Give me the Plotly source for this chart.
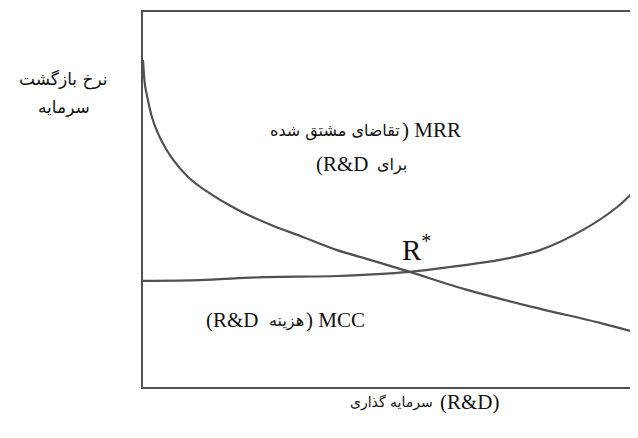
import plotly.graph_objects as go

# MRR curve (derived demand for R&D)
mrr_x = [0, 0.4, 1.0, 1.8, 3.0, 5.7, 9.1, 12.5, 19.2, 25.9, 32.3, 39.2, 45.9, 53.9, 65.5, 78.8, 92.3, 100]
mrr_y = [87.2, 80.5, 76.5, 72.0, 67.7, 61.3, 56.0, 52.5, 47.2, 43.2, 40.0, 36.5, 33.9, 30.7, 25.9, 21.3, 17.1, 14.4]

# MCC curve (cost of R&D)
mcc_x = [0, 11.5, 24.2, 39.2, 53.9, 62.0, 72.1, 80.2, 88.9, 95.8, 100]
mcc_y = [28.3, 28.5, 29.3, 29.6, 30.7, 32.0, 33.9, 36.5, 41.9, 48.0, 53.3]

# Equilibrium point label position
eq_x = [55.3]
eq_y = [37.0]

LINE = "#505050"
SERIF = "Liberation Serif"
ARAB = "DejaVu Sans, sans-serif"
INK = "#111111"

fig = go.Figure()
fig.add_trace(go.Scatter(x=mrr_x, y=mrr_y, mode="lines",
                         line=dict(color=LINE, width=2.2, shape="spline", smoothing=0.8),
                         hoverinfo="skip", showlegend=False))
fig.add_trace(go.Scatter(x=mcc_x, y=mcc_y, mode="lines",
                         line=dict(color=LINE, width=2.2, shape="spline", smoothing=0.8),
                         hoverinfo="skip", showlegend=False))

ann = []


def lat(text, x, y, anchor, size=21, ref="x"):
    ann.append(dict(text=text, x=x, y=y, xref=ref, yref=("y" if ref == "x" else "paper"),
                    xanchor=anchor, yanchor="middle", showarrow=False,
                    font=dict(size=size, color=INK, family=SERIF)))


def per(text, x, y, anchor, size=15, ref="x"):
    ann.append(dict(text=text, x=x, y=y, xref=ref, yref=("y" if ref == "x" else "paper"),
                    xanchor=anchor, yanchor="middle", showarrow=False,
                    font=dict(size=size, color=INK, family=ARAB)))


# MRR label, line 1:  "MRR (تقاضای مشتق شده"
per("تقاضای مشتق شده", 52.4, 68.3, "right", 16)
lat(") MRR", 51.9, 68.5, "left")
# MRR label, line 2:  "برای R&D)"
lat("(R&amp;D", 46.0, 59.5, "right")
per("برای", 46.9, 59.3, "left", 16)

# R*
lat("R<sup>*</sup>", eq_x[0], eq_y[0], "center", 29)

# MCC label:  "MCC (هزینه R&D)"
lat("(R&amp;D", 23.8, 17.9, "right")
per("هزینه", 28.9, 17.7, "center", 16)
lat(") MCC", 32.6, 17.9, "left")

# Y axis label (two lines)
per("نرخ بازگشت", -0.160, 0.821, "center", 17, ref="paper")
per("سرمایه", -0.160, 0.747, "center", 17, ref="paper")

# X axis label:  "سرمایه گذاری (R&D)"
per("سرمایه گذاری", 0.589, -0.040, "right", 14, ref="paper")
lat("(R&amp;D)", 0.596, -0.040, "left", 21, ref="paper")

# page body has an 8px default margin: figure is 630x430 placed at (8,8)
fig.update_layout(
    width=630, height=430,
    margin=dict(l=135, r=0, t=4, b=51),
    paper_bgcolor="white", plot_bgcolor="white",
    annotations=ann,
    xaxis=dict(range=[0, 100], showgrid=False, zeroline=False, showticklabels=False,
               ticks="", showline=True, linecolor=LINE, linewidth=2.2, mirror=True,
               fixedrange=True),
    yaxis=dict(range=[0, 100], showgrid=False, zeroline=False, showticklabels=False,
               ticks="", showline=True, linecolor=LINE, linewidth=2.2, mirror=False,
               fixedrange=True),
)

fig.write_html("out.html", config={"displayModeBar": False})
